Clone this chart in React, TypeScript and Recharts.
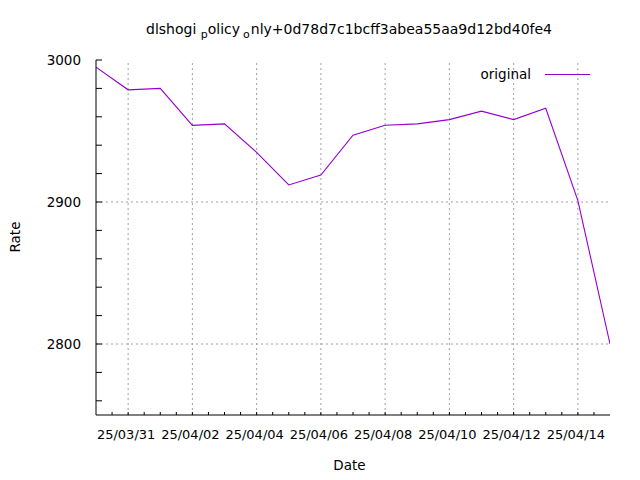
import React from 'react';
import { LineChart, Line, XAxis, YAxis, ReferenceLine, Legend } from 'recharts';

// ---- data ----
const dates = [
  '25/03/30', '25/03/31', '25/04/01', '25/04/02', '25/04/03', '25/04/04',
  '25/04/05', '25/04/06', '25/04/07', '25/04/08', '25/04/09', '25/04/10',
  '25/04/11', '25/04/12', '25/04/13', '25/04/14', '25/04/15',
];
const rates = [
  2995, 2979, 2980, 2954, 2955, 2935, 2912, 2919, 2947, 2954, 2955, 2958,
  2964, 2958, 2966, 2901, 2800,
];
const xTickLabels = [
  '25/03/31', '25/04/02', '25/04/04', '25/04/06', '25/04/08', '25/04/10',
  '25/04/12', '25/04/14',
];
const yTickLabels = [2800, 2900, 3000];
const yDomain = [2750, 3000];
const seriesName = 'original';
const titleParts = ['dlshogi ', 'p', 'olicy', 'o', 'nly+0d78d7c1bcff3abea55aa9d12bd40fe4'];

// ---- helpers ----
const DAY = 86400000;
const parseDate = (s: string) => {
  const [yy, mm, dd] = s.split('/').map(Number);
  return Date.UTC(2000 + yy, mm - 1, dd);
};
const t0 = parseDate(dates[0]);
const toDay = (s: string) => Math.round((parseDate(s) - t0) / DAY);

const data = dates.map((d, i) => ({ x: toDay(d), rate: rates[i] }));
const xMajor = xTickLabels.map(toDay);
const xMax = toDay(dates[dates.length - 1]);
const xTicks: number[] = [];
for (let v = 0.5; v < xMax; v += 0.5) xTicks.push(v);
const yTicks: number[] = [];
for (let v = yDomain[0] + 10; v <= yDomain[1]; v += 20) yTicks.push(v);

const FONT = "'DejaVu Sans', sans-serif";
const FS = 13.5;
const COLOR = '#9400d3';

const xFmt = (v: number) => {
  const i = xMajor.indexOf(v);
  return i >= 0 ? xTickLabels[i] : '';
};
const yFmt = (v: number) => (yTickLabels.includes(v) ? String(v) : '');
const blank = () => '';

const tickStyle = { fill: '#000', fontSize: FS, fontFamily: FONT };
const xTickStyle = { fill: '#000', fontSize: 13, fontFamily: FONT, dx: -2 };

const LegendContent = () => (
  <svg width={130} height={20} style={{ display: 'block' }}>
    <text x={61} y={15} textAnchor="end" fontFamily={FONT} fontSize={FS} fill="#000">
      {seriesName}
    </text>
    <line x1={75} x2={120} y1={10.5} y2={10.5} stroke={COLOR} strokeWidth={1.1} />
  </svg>
);

export default function App() {
  return (
    <div style={{ position: 'absolute', left: 0, top: 0, width: 640, height: 480, background: '#fff' }}>
      <LineChart
        width={640}
        height={480}
        data={data}
        margin={{ top: 60, right: 30, bottom: 35, left: 0 }}
      >
        <XAxis
          xAxisId="b"
          dataKey="x"
          type="number"
          orientation="bottom"
          domain={[0, xMax]}
          ticks={xTicks}
          interval={0}
          tickFormatter={xFmt}
          tickSize={-3}
          tickMargin={17.5}
          height={30}
          axisLine={{ stroke: '#000' }}
          tickLine={{ stroke: '#000' }}
          tick={xTickStyle}
          allowDataOverflow
        />
        <XAxis
          xAxisId="t"
          dataKey="x"
          type="number"
          orientation="top"
          domain={[0, xMax]}
          ticks={xTicks}
          interval={0}
          tickFormatter={blank}
          tickSize={-3}
          height={0}
          axisLine={{ stroke: '#000' }}
          tickLine={{ stroke: '#000' }}
          tick={tickStyle}
          allowDataOverflow
        />
        <YAxis
          yAxisId="l"
          type="number"
          orientation="left"
          domain={yDomain}
          ticks={yTicks}
          interval={0}
          tickFormatter={yFmt}
          tickSize={-6}
          tickMargin={21}
          width={96}
          axisLine={{ stroke: '#000' }}
          tickLine={{ stroke: '#000' }}
          tick={tickStyle}
          allowDataOverflow
        />
        <YAxis
          yAxisId="r"
          type="number"
          orientation="right"
          domain={yDomain}
          ticks={yTicks}
          interval={0}
          tickFormatter={blank}
          tickSize={-6}
          width={0}
          axisLine={{ stroke: '#000' }}
          tickLine={{ stroke: '#000' }}
          tick={tickStyle}
          allowDataOverflow
        />
        {xMajor.map((v) => (
          <ReferenceLine
            key={'gx' + v}
            x={v}
            xAxisId="b"
            yAxisId="l"
            stroke="#a0a0a0"
            strokeDasharray="2 3"
          />
        ))}
        {yTickLabels
          .filter((v) => v < yDomain[1])
          .map((v) => (
            <ReferenceLine
              key={'gy' + v}
              y={v}
              xAxisId="b"
              yAxisId="l"
              stroke="#a0a0a0"
              strokeDasharray="2 3"
            />
          ))}
        <Line
          xAxisId="b"
          yAxisId="l"
          type="linear"
          dataKey="rate"
          name={seriesName}
          stroke={COLOR}
          strokeWidth={1.1}
          dot={false}
          activeDot={false}
          isAnimationActive={false}
        />
        <Legend
          layout="vertical"
          align="center"
          verticalAlign="middle"
          content={<LegendContent />}
          wrapperStyle={{ position: 'absolute', left: 470, top: 64, width: 130, height: 20 }}
        />
      </LineChart>
      <svg
        width={640}
        height={480}
        style={{ position: 'absolute', left: 0, top: 0, pointerEvents: 'none' }}
      >
        <text x={349} y={34} textAnchor="middle" fontFamily={FONT} fontSize={14} fill="#000">
          <tspan>{titleParts[0]}</tspan>
          <tspan dy={4} fontSize={11}>{titleParts[1]}</tspan>
          <tspan dy={-4}>{titleParts[2]}</tspan>
          <tspan dx={3} dy={4} fontSize={11}>{titleParts[3]}</tspan>
          <tspan dx={1} dy={-4}>{titleParts[4]}</tspan>
        </text>
        <text
          x={0}
          y={0}
          transform="translate(20,237) rotate(-90)"
          textAnchor="middle"
          fontFamily={FONT}
          fontSize={FS}
          fill="#000"
        >
          Rate
        </text>
        <text x={349.5} y={469.5} textAnchor="middle" fontFamily={FONT} fontSize={FS} fill="#000">
          Date
        </text>
      </svg>
    </div>
  );
}
